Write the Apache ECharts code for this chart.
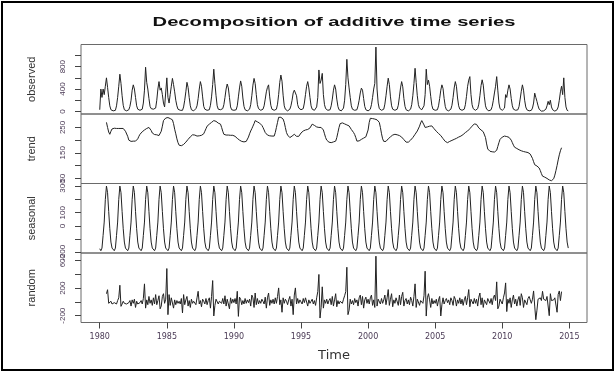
<!DOCTYPE html>
<html><head><meta charset="utf-8">
<script src="https://cdn.jsdelivr.net/npm/echarts@6/dist/echarts.min.js"></script>
<style>html,body{margin:0;padding:0;background:#fff}#c{width:616px;height:374px}</style>
</head><body><div id="c"></div>
<script>
// ts(start = 1980, frequency = 12), monthly Jan 1980 .. Dec 2014
const startYear = 1980;
const frequency = 12;
const panelNames = ['observed', 'trend', 'seasonal', 'random'];
const titleText = 'Decomposition of additive time series';
const xName = 'Time';
const xTicks = [1980, 1985, 1990, 1995, 2000, 2005, 2010, 2015];
const obsTicks = [0, 200, 400, 600, 800, 1000];
const obsLabels = [0, 400, 800];
const trendTicks = [50, 100, 150, 200, 250];
const trendLabels = [50, 150, 250];
const seasTicks = [-200, -100, 0, 100, 200, 300];
const seasLabels = [-200, 0, 100, 300];
const randTicks = [-200, 0, 200, 400, 600];
const randLabels = [-200, 200, 600];

const observed = [
 30,400,250,400,300,450,600,430,250,100,30,10,
 10,5,20,100,250,450,665,500,280,110,30,10,
 10,8,30,90,200,380,475,400,250,100,40,20,
 20,10,40,150,380,790,520,400,230,90,50,40,
 40,45,60,200,400,533,380,420,300,150,80,60,
 600,250,150,300,450,590,480,350,200,100,40,30,
 20,10,20,80,200,350,520,430,250,100,30,10,
 10,20,50,100,230,400,533,450,260,90,40,20,
 20,10,30,110,260,480,755,500,280,100,40,30,
 30,20,50,120,250,400,490,420,250,80,30,20,
 20,10,30,100,260,420,545,450,240,90,30,10,
 10,20,40,120,280,470,590,500,300,120,50,20,
 20,30,40,100,220,350,430,475,260,110,40,20,
 20,10,40,130,300,520,650,540,290,100,40,20,
 10,20,40,100,200,330,380,400,280,120,60,30,
 30,20,50,150,300,450,533,420,250,100,40,20,
 20,30,80,250,741,500,560,680,300,120,50,20,
 20,10,30,100,220,380,475,400,220,90,30,10,
 10,20,60,200,480,931,600,420,250,100,40,20,
 20,10,30,100,200,330,416,380,230,90,30,10,
 10,20,40,120,250,400,500,1150,400,150,50,20,
 20,10,40,130,280,450,594,480,260,100,40,20,
 20,15,40,110,260,420,533,440,230,90,30,10,
 10,20,40,120,280,500,771,520,280,120,60,30,
 30,40,100,300,755,480,560,450,270,110,40,20,
 20,10,30,100,230,380,475,410,230,90,30,10,
 10,20,40,110,250,420,533,450,240,100,40,20,
 20,10,40,120,270,450,560,622,300,120,50,20,
 20,30,50,130,280,460,565,470,260,100,40,20,
 10,20,30,90,200,330,450,622,380,150,50,20,
 20,30,60,300,250,380,475,400,230,100,40,20,
 20,10,30,90,220,360,475,380,200,80,30,10,
 10,5,20,60,150,327,250,180,100,40,10,5,
 5,10,20,40,100,180,120,200,80,30,10,5,
 20,30,80,200,350,450,300,600,250,80,20,10
];

const trend = [
 null,null,null,null,null,null,270,250,232,223,235,244,
 246,247,245,246,248,246,245,246,247,246,240,235,
 230,215,200,196,195,197,196,194,196,198,205,215,
 223,228,233,236,240,243,246,248,250,248,238,228,
 223,222,220,221,219,218,219,235,255,277,282,287,
 290,289,287,285,283,280,265,243,225,205,190,180,
 176,178,181,183,187,192,198,203,208,213,218,221,
 223,220,217,216,215,217,218,219,220,225,235,245,
 255,260,263,266,270,274,277,276,274,270,267,265,
 263,250,235,223,220,220,222,220,218,219,220,219,
 219,215,210,207,204,200,196,195,194,193,193,195,
 200,212,225,236,245,255,265,277,275,272,270,267,
 263,258,250,240,230,223,220,218,217,216,216,216,
 216,230,250,270,290,292,290,287,283,270,250,230,
 220,215,210,212,216,220,223,222,215,210,215,222,
 228,232,236,238,240,241,242,243,248,255,263,262,
 258,255,252,251,250,250,250,250,240,225,210,200,
 195,192,191,190,191,193,195,196,210,230,250,265,
 270,268,266,264,262,260,258,256,250,242,235,230,
 222,210,196,195,197,200,203,205,208,210,213,216,
 240,270,286,286,285,284,283,283,280,276,270,250,
 225,205,195,190,195,200,205,210,213,216,220,222,
 223,222,221,220,218,216,212,207,202,197,192,190,
 192,196,200,205,210,215,223,230,236,243,255,268,
 277,270,260,250,250,252,254,255,256,256,250,245,
 240,235,230,226,223,218,212,206,200,195,190,190,
 192,195,197,199,201,203,205,207,210,212,214,216,
 218,222,226,230,234,236,240,245,250,255,260,264,
 267,262,255,248,243,240,237,233,230,210,185,165,
 158,156,155,154,153,153,153,160,175,190,203,208,
 212,215,216,215,214,212,211,210,200,190,180,172,
 170,167,165,162,160,158,156,155,154,153,152,151,
 150,145,138,128,115,103,100,98,96,90,80,68,
 58,56,54,52,49,46,43,41,40,42,48,62,
 80,100,122,142,158,170,null,null,null,null,null,null
];

const seasonal = [
 -170,-185,-165,-70,30,200,300,250,110,-20,-120,-165,
 -170,-185,-165,-70,30,200,300,250,110,-20,-120,-165,
 -170,-185,-165,-70,30,200,300,250,110,-20,-120,-165,
 -170,-185,-165,-70,30,200,300,250,110,-20,-120,-165,
 -170,-185,-165,-70,30,200,300,250,110,-20,-120,-165,
 -170,-185,-165,-70,30,200,300,250,110,-20,-120,-165,
 -170,-185,-165,-70,30,200,300,250,110,-20,-120,-165,
 -170,-185,-165,-70,30,200,300,250,110,-20,-120,-165,
 -170,-185,-165,-70,30,200,300,250,110,-20,-120,-165,
 -170,-185,-165,-70,30,200,300,250,110,-20,-120,-165,
 -170,-185,-165,-70,30,200,300,250,110,-20,-120,-165,
 -170,-185,-165,-70,30,200,300,250,110,-20,-120,-165,
 -170,-185,-165,-70,30,200,300,250,110,-20,-120,-165,
 -170,-185,-165,-70,30,200,300,250,110,-20,-120,-165,
 -170,-185,-165,-70,30,200,300,250,110,-20,-120,-165,
 -170,-185,-165,-70,30,200,300,250,110,-20,-120,-165,
 -170,-185,-165,-70,30,200,300,250,110,-20,-120,-165,
 -170,-185,-165,-70,30,200,300,250,110,-20,-120,-165,
 -170,-185,-165,-70,30,200,300,250,110,-20,-120,-165,
 -170,-185,-165,-70,30,200,300,250,110,-20,-120,-165,
 -170,-185,-165,-70,30,200,300,250,110,-20,-120,-165,
 -170,-185,-165,-70,30,200,300,250,110,-20,-120,-165,
 -170,-185,-165,-70,30,200,300,250,110,-20,-120,-165,
 -170,-185,-165,-70,30,200,300,250,110,-20,-120,-165,
 -170,-185,-165,-70,30,200,300,250,110,-20,-120,-165,
 -170,-185,-165,-70,30,200,300,250,110,-20,-120,-165,
 -170,-185,-165,-70,30,200,300,250,110,-20,-120,-165,
 -170,-185,-165,-70,30,200,300,250,110,-20,-120,-165,
 -170,-185,-165,-70,30,200,300,250,110,-20,-120,-165,
 -170,-185,-165,-70,30,200,300,250,110,-20,-120,-165,
 -170,-185,-165,-70,30,200,300,250,110,-20,-120,-165,
 -170,-185,-165,-70,30,200,300,250,110,-20,-120,-165,
 -170,-185,-165,-70,30,200,300,250,110,-20,-120,-165,
 -170,-185,-165,-70,30,200,300,250,110,-20,-120,-165,
 -170,-185,-165,-70,30,200,300,250,110,-20,-120,-165
];

const random = [
 null,null,null,null,null,null,120,178,-20,-40,10,-30,
 -20,-10,5,-30,20,60,243,-64,-30,10,-20,-40,
 -30,-50,-10,20,-60,30,-20,40,-80,10,-30,-20,
 -10,20,-30,50,263,-90,30,-40,80,-20,30,-50,
 60,-30,107,-40,20,90,-100,-60,80,120,-20,40,
 486,-185,107,-50,60,40,-90,30,-40,20,-20,10,
 -30,50,-160,107,-40,30,80,-60,20,-80,40,-20,
 10,30,-40,60,155,-30,20,-70,40,10,-30,50,
 -40,20,60,-90,80,311,-204,-50,40,20,-30,10,
 30,-20,50,-30,90,-60,40,30,-100,60,-20,40,
 -10,50,-30,155,-210,70,40,-40,20,-30,50,-20,
 30,-10,40,-60,100,60,-80,130,-40,50,-30,20,
 -20,40,10,-30,70,-90,60,130,-50,30,-20,40,
 -30,60,-20,80,204,-40,30,-150,60,-20,40,10,
 -40,30,80,-60,40,-185,100,204,-30,50,-20,30,
 20,-30,50,-10,60,40,-60,30,-20,10,40,-30,
 20,-50,60,150,400,-234,-80,220,-90,30,-20,40,
 -30,20,50,-40,80,-60,30,120,-70,20,-30,10,
 30,-20,40,90,150,505,-185,-120,40,-30,20,-40,
 50,-10,30,-60,60,100,-40,80,-90,30,70,-20,
 40,-30,60,100,-50,30,-80,666,-60,40,20,-30,
 50,-20,30,100,-40,60,180,-50,40,120,-70,30,
 -20,60,40,-50,100,-40,80,140,-60,20,50,-30,
 30,-40,70,20,-60,80,263,-80,40,30,-50,20,
 40,-20,90,447,-205,60,120,30,-80,50,-30,20,
 -20,40,-60,30,80,-204,-40,60,-30,20,50,-10,
 30,-40,60,20,-50,80,40,-60,30,-20,60,-30,
 40,-50,30,80,-40,60,180,-70,40,20,-30,50,
 -20,40,-60,70,130,-40,60,-80,30,20,-40,50,
 30,-20,50,-40,60,100,20,292,-100,-60,40,20,
 -30,60,130,277,-140,40,-20,60,-80,30,100,-30,
 40,-60,30,80,-50,120,60,-80,30,20,-40,50,
 80,30,-20,40,160,-60,-258,-120,40,30,60,20,
 155,40,60,20,80,60,-200,120,20,40,30,60,
 80,-150,110,160,20,150,null,null,null,null,null,null
];

const seriesValues = [observed, trend, seasonal, random];
const yRanges = [[-46, 1196], [29, 303], [-202, 319], [-299, 712]];
const yTicks = [obsTicks, trendTicks, seasTicks, randTicks];
const yLabels = [obsLabels, trendLabels, seasLabels, randLabels];
const xRange = [1978.603, 2016.314];

const chart = echarts.init(document.getElementById('c'));
const panelTop = [44.5, 114, 183.5, 253];
const panelH = 69.5;
const grids = [], xAxes = [], yAxes = [], series = [];
for (let p = 0; p < 4; p++) {
  grids.push({left: 81, right: 29, top: panelTop[p], height: panelH, show: true,
    borderColor: '#6a6a6a', borderWidth: 1, backgroundColor: 'transparent'});
  const bottom = p === 3;
  xAxes.push({type: 'value', gridIndex: p, min: xRange[0], max: xRange[1], show: bottom,
    position: 'bottom',
    axisLine: {show: false, onZero: false}, splitLine: {show: false},
    axisTick: {show: bottom, customValues: xTicks, length: 6, lineStyle: {color: '#444'}},
    axisLabel: {show: bottom, customValues: xTicks, fontSize: 8, fontFamily: 'DejaVu Sans', color: '#4a3a55', margin: 10,
      formatter: v => String(v)},
    name: bottom ? xName : '', nameLocation: 'middle', nameGap: 27,
    nameTextStyle: {fontSize: 13, fontFamily: 'DejaVu Sans', color: '#333'}});
  yAxes.push({type: 'value', gridIndex: p, min: yRanges[p][0], max: yRanges[p][1],
    position: 'left',
    axisLine: {show: false, onZero: false}, splitLine: {show: false},
    axisTick: {show: true, customValues: yTicks[p], length: 6, lineStyle: {color: '#444'}},
    axisLabel: {customValues: yLabels[p], rotate: 90, fontSize: 8, fontFamily: 'Liberation Sans', color: '#4a3a55', margin: 14,
      formatter: v => String(v)},
    name: panelNames[p], nameLocation: 'middle', nameGap: 44, nameRotate: 90,
    nameTextStyle: {fontSize: 11, fontFamily: 'Liberation Sans', color: '#333'}});
  series.push({type: 'line', xAxisIndex: p, yAxisIndex: p, showSymbol: false, symbol: 'none',
    connectNulls: false, animation: false,
    lineStyle: {color: '#222', width: 1},
    data: seriesValues[p].map((v, i) => [startYear + i / frequency, v])});
}

chart.setOption({
  animation: false,
  backgroundColor: '#fff',
  grid: grids, xAxis: xAxes, yAxis: yAxes, series: series,
  graphic: [
    {type: 'text', x: 334, y: 22, scaleX: 1.55, silent: true,
     style: {text: titleText, font: 'bold 13px "Liberation Sans", Arial, sans-serif', fill: '#111',
       align: 'center', verticalAlign: 'middle'}},
    {type: 'rect', silent: true, shape: {x: 2, y: 2, width: 611, height: 368},
     style: {fill: 'none', stroke: '#000', lineWidth: 2}}
  ]
});
</script></body></html>
